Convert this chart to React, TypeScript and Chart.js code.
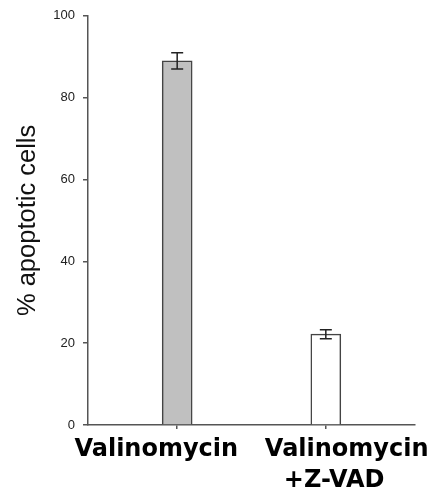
import React, { useEffect, useRef } from "react";
import { Chart, registerables } from "chart.js";

Chart.register(...registerables);

// Category labels (trailing/leading spaces nudge each label as in the original figure)
const categories: string[][] = [["Valinomycin     "], ["     Valinomycin", "  +Z-VAD"]];
const values: number[] = [89, 22.2];
const errors: number[] = [2.0, 1.1];
const barColors: string[] = ["#c0c0c0", "#ffffff"];
const yTicks: number[] = [0, 20, 40, 60, 80, 100];
const yTitle = "% apoptotic cells";

const errorBarPlugin = {
  id: "errorBars",
  afterDatasetsDraw(chart: any) {
    const ctx = chart.ctx;
    const xs = chart.scales.x;
    const ys = chart.scales.y;
    ctx.save();
    ctx.strokeStyle = "#222";
    ctx.lineWidth = 1.5;
    values.forEach((v, i) => {
      const x = xs.getPixelForValue(i);
      const yt = ys.getPixelForValue(v + errors[i]);
      const yb = ys.getPixelForValue(v - errors[i]);
      const cap = 6;
      ctx.beginPath();
      ctx.moveTo(x, yt);
      ctx.lineTo(x, yb);
      ctx.moveTo(x - cap, yt);
      ctx.lineTo(x + cap, yt);
      ctx.moveTo(x - cap, yb);
      ctx.lineTo(x + cap, yb);
      ctx.stroke();
    });
    ctx.restore();
  },
};

export default function App() {
  const ref = useRef<HTMLCanvasElement | null>(null);
  useEffect(() => {
    if (!ref.current) return;
    const chart = new Chart(ref.current, {
      type: "bar",
      data: {
        datasets: [
          {
            data: values.map((v, i) => ({ x: i, y: v })),
            backgroundColor: barColors,
            borderColor: "#444",
            borderWidth: 1.5,
            barThickness: 30,
          },
        ],
      },
      options: {
        animation: false,
        responsive: true,
        maintainAspectRatio: false,
        layout: { padding: { top: 15, right: 33, left: 0, bottom: 0 } },
        plugins: { legend: { display: false }, tooltip: { enabled: false } },
        scales: {
          x: {
            type: "linear",
            min: -0.6,
            max: 1.6,
            offset: false,
            afterBuildTicks: (scale: any) => {
              scale.ticks = categories.map((_, i) => ({ value: i }));
            },
            afterFit: (scale: any) => {
              scale.height = 76;
            },
            ticks: {
              callback: (v: any) => categories[Number(v)] ?? "",
              font: { family: "'DejaVu Sans', sans-serif", size: 24, weight: "bold", lineHeight: 1.29 },
              color: "#000",
              padding: 5,
              maxRotation: 0,
              autoSkip: false,
            },
            grid: { offset: false, drawOnChartArea: false, tickLength: 4, color: "#555", lineWidth: 1.5 },
            border: { color: "#555", width: 1.5 },
          },
          y: {
            min: 0,
            max: 100,
            afterBuildTicks: (scale: any) => {
              scale.ticks = yTicks.map((v) => ({ value: v }));
            },
            afterFit: (scale: any) => {
              scale.width = 88;
            },
            ticks: {
              font: { family: "'Liberation Sans', Arial, sans-serif", size: 13 },
              color: "#222",
              padding: 8,
            },
            grid: { drawOnChartArea: false, tickLength: 5, color: "#555", lineWidth: 1.5 },
            border: { color: "#555", width: 1.5 },
            title: {
              display: true,
              text: yTitle,
              font: { family: "'Liberation Sans', Arial, sans-serif", size: 25.5 },
              color: "#111",
              padding: { top: 13, bottom: 0 },
            },
          },
        },
      },
      plugins: [errorBarPlugin],
    });
    return () => chart.destroy();
  }, []);
  return (
    <div style={{ position: "fixed", left: 0, top: 0, width: 448, height: 501 }}>
      <canvas ref={ref} />
    </div>
  );
}
